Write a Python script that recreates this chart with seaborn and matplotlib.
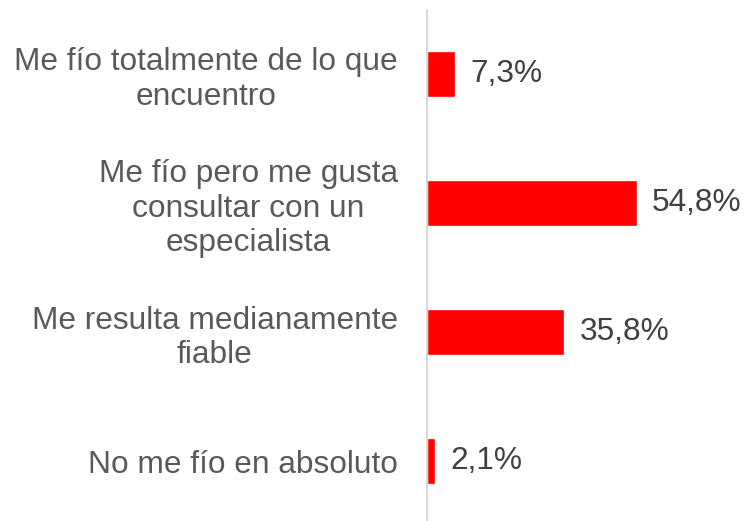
import pandas as pd
import matplotlib.pyplot as plt
import seaborn as sns

# Survey answers and share of respondents (%)
categories = ['Me fío totalmente de lo que\nencuentro',
              'Me fío pero me gusta\nconsultar con un\nespecialista',
              'Me resulta medianamente\nfiable',
              'No me fío en absoluto']
values = [7.3, 54.8, 35.8, 2.1]
value_labels = ['7,3%', '54,8%', '35,8%', '2,1%']

df = pd.DataFrame({'respuesta': categories, 'porcentaje': values})

sns.set_style('white')
plt.rcParams['font.family'] = ['Liberation Sans', 'DejaVu Sans']

fig = plt.figure(figsize=(7.46, 5.21), dpi=100)
ax = fig.add_axes([427 / 746, 0, 1 - 427 / 746, 511 / 521])

sns.barplot(data=df, x='porcentaje', y='respuesta', orient='h',
            color='#ff0000', saturation=1, width=0.35, ax=ax)

ax.set_xlim(0, 319 / 3.83)
ax.set_ylim(3.465, -0.496)

for i, (v, lab) in enumerate(zip(values, value_labels)):
    ax.text(v + 4.0, i, lab, va='center', ha='left',
            fontsize=22.8, color='#404040')

ax.set_xlabel('')
ax.set_ylabel('')
ax.set_xticks([])
ax.tick_params(axis='y', length=0, pad=21, labelsize=22.8, labelcolor='#595959')
for t in ax.get_yticklabels():
    t.set_multialignment('center')
    t.set_linespacing(1.2)

for s in ['top', 'right', 'bottom']:
    ax.spines[s].set_visible(False)
ax.spines['left'].set_color('#d9d9d9')
ax.spines['left'].set_linewidth(1.5)

fig.savefig('out.png', dpi=100, facecolor='white')
